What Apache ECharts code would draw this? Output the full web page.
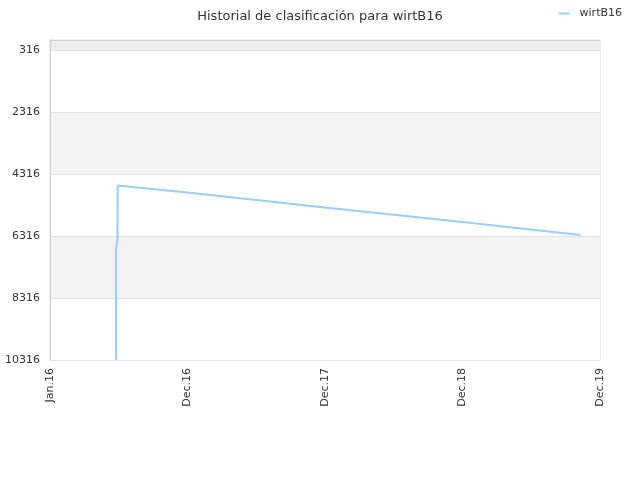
<!DOCTYPE html>
<html>
    <head>
        <meta charset="utf-8">
        <title>wirtB16</title>
        <script src="https://cdn.jsdelivr.net/npm/echarts@6/dist/echarts.min.js"></script>
    </head>
    <body style="margin:0">
        <style>
            html, body, #main {
                width: 640px;
                height: 480px;
            }
        </style>
        <div id="main"></div>
        <script>
            // x in periods from Jan.16 (one unit per tick label), y = ranking position
            var periodLabels = ['Jan.16', 'Dec.16', 'Dec.17', 'Dec.18', 'Dec.19'];
            var rankTicks = [316, 2316, 4316, 6316, 8316, 10316];
            var positions = [0.480, 0.480, 0.487, 0.490, 0.493, 1.00, 2.00, 3.00, 3.858];
            var ranks = [10316, 6703, 6542, 6430, 4687, 4913, 5397, 5865, 6284];

            var chart = echarts.init(document.getElementById('main'));
            var font = 'DejaVu Sans';

            chart.setOption({
                animation: false,
                textStyle: { fontFamily: font },
                title: {
                    text: 'Historial de clasificación para wirtB16',
                    left: 'center',
                    top: 5,
                    textStyle: { fontSize: 13, fontWeight: 'normal', color: '#333', fontFamily: font }
                },
                legend: {
                    right: 13,
                    top: 3,
                    itemWidth: 11,
                    itemHeight: 2,
                    textStyle: { fontSize: 11, color: '#333', fontFamily: font, padding: [0, 0, 0, 5] },
                    data: [{ name: 'wirtB16', icon: 'rect' }]
                },
                grid: {
                    left: 50,
                    right: 40,
                    top: 40,
                    bottom: 120,
                    show: true,
                    borderColor: '#e0e0e0',
                    borderWidth: 1
                },
                xAxis: {
                    type: 'value',
                    min: 0,
                    max: periodLabels.length - 1,
                    interval: 1,
                    axisLine: { lineStyle: { color: '#d0d0d0' } },
                    axisTick: { show: false },
                    splitLine: { show: false },
                    axisLabel: {
                        rotate: 90,
                        fontSize: 11,
                        color: '#333',
                        margin: 8,
                        formatter: function (v) { return periodLabels[Math.round(v)]; }
                    }
                },
                yAxis: {
                    type: 'value',
                    inverse: true,
                    min: -7,
                    max: 10316,
                    axisLine: { show: true, lineStyle: { color: '#d0d0d0' } },
                    axisTick: { show: false, customValues: [-7].concat(rankTicks) },
                    axisLabel: {
                        customValues: rankTicks,
                        fontSize: 11,
                        color: '#333',
                        margin: 10,
                        formatter: function (v) { return String(v); }
                    },
                    splitLine: { show: true, lineStyle: { color: '#e2e2e2' } },
                    splitArea: {
                        show: true,
                        areaStyle: { color: ['#eeeeee', '#ffffff', '#f3f3f3', '#ffffff', '#f3f3f3', '#ffffff'] }
                    }
                },
                series: [{
                    name: 'wirtB16',
                    type: 'line',
                    showSymbol: false,
                    lineStyle: { color: '#99ccff', width: 2 },
                    itemStyle: { color: '#99ccff' },
                    data: positions.map(function (p, i) { return [p, ranks[i]]; })
                }]
            });
        </script>
    </body>
</html>
